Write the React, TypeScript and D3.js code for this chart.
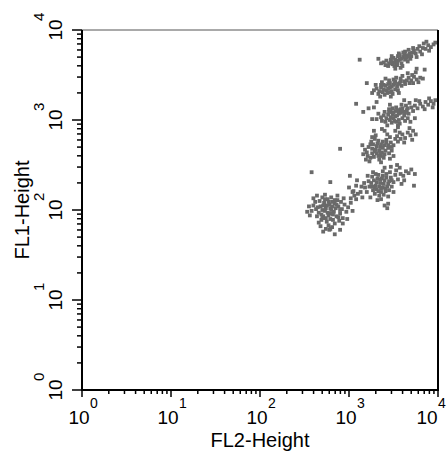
import * as d3 from "d3";

// log decades shown on both axes, and minor tick steps inside a decade
const decades = [0, 1, 2, 3, 4];
const minorSteps = [2, 3, 4, 5, 6, 7, 8, 9];
const xTitle = "FL2-Height";
const yTitle = "FL1-Height";

// events as [FL2, FL1], log10 units
const peak6 = [
  [2.79, 2.02], [2.75, 2.05], [2.83, 1.98], [2.70, 2.00], [2.88, 2.04], [2.77, 1.94], [2.81, 2.09], [2.72, 2.08],
  [2.86, 1.93], [2.66, 1.97], [2.92, 2.01], [2.74, 1.91], [2.68, 2.04], [2.84, 2.07], [2.79, 1.96], [2.90, 1.96],
  [2.63, 2.01], [2.76, 2.12], [2.95, 2.06], [2.71, 1.93], [2.82, 1.89], [2.67, 2.10], [2.87, 2.11], [2.73, 1.99],
  [2.93, 1.91], [2.60, 2.05], [2.78, 2.06], [2.85, 2.02], [2.69, 1.89], [2.80, 2.14], [2.97, 1.98], [2.64, 1.93],
  [2.89, 1.88], [2.75, 1.87], [2.58, 1.99], [2.70, 2.14], [2.91, 2.09], [2.62, 2.09], [2.84, 1.85], [2.99, 2.03],
  [2.56, 1.94], [2.77, 1.83], [2.66, 1.86], [3.02, 2.08], [2.94, 2.13], [2.60, 2.13], [2.73, 2.17], [2.87, 2.16],
  [2.55, 2.04], [2.81, 1.81], [2.93, 1.85], [2.68, 1.82], [3.04, 1.99], [2.53, 1.98], [2.98, 1.90], [2.64, 2.16],
  [3.02, 2.13], [3.06, 2.16], [3.10, 2.18], [3.08, 2.12], [3.13, 2.20], [3.04, 2.20], [3.15, 2.14], [2.78, 1.78],
  [2.90, 1.78], [2.71, 1.76], [2.84, 1.73], [2.74, 1.79], [3.00, 2.25], [3.05, 2.21], [3.08, 2.27],
  [2.74, 2.02], [2.80, 2.00], [2.77, 2.09], [2.71, 2.05], [2.86, 2.06], [2.82, 1.95], [2.69, 1.95], [2.76, 1.97],
  [2.84, 2.11], [2.90, 2.00], [2.73, 2.12], [2.79, 1.90], [2.65, 2.03], [2.88, 1.92], [2.81, 2.04], [2.70, 1.91],
];

const peak5 = [
  [3.35, 2.30], [3.30, 2.27], [3.40, 2.33], [3.27, 2.22], [3.38, 2.25], [3.44, 2.29], [3.32, 2.35], [3.25, 2.30],
  [3.47, 2.36], [3.36, 2.20], [3.42, 2.40], [3.29, 2.18], [3.33, 2.39], [3.50, 2.31], [3.23, 2.26], [3.39, 2.17],
  [3.45, 2.22], [3.28, 2.33], [3.52, 2.39], [3.37, 2.35], [3.31, 2.23], [3.43, 2.26], [3.20, 2.20], [3.48, 2.26],
  [3.34, 2.16], [3.26, 2.37], [3.41, 2.21], [3.55, 2.34], [3.22, 2.32], [3.46, 2.42], [3.30, 2.40], [3.38, 2.43],
  [3.58, 2.40], [3.53, 2.44], [3.61, 2.38], [3.64, 2.43], [3.57, 2.47], [3.67, 2.41], [3.70, 2.45], [3.62, 2.33],
  [3.18, 2.25], [3.24, 2.14], [3.36, 2.12], [3.44, 2.15], [3.50, 2.20], [3.17, 2.30], [3.27, 2.42], [3.40, 2.47],
  [3.74, 2.40], [3.59, 2.29], [3.47, 2.48], [3.21, 2.38], [3.32, 2.11], [3.14, 2.26], [3.40, 2.05], [3.44, 2.07],
  [3.73, 2.27], [3.54, 2.50],
  [3.34, 2.26], [3.39, 2.29], [3.31, 2.31], [3.36, 2.24], [3.42, 2.36], [3.29, 2.25], [3.45, 2.32], [3.35, 2.34],
  [3.26, 2.26], [3.41, 2.24], [3.33, 2.21], [3.48, 2.33], [3.38, 2.38],
];

const peak4 = [
  [3.35, 2.70], [3.30, 2.67], [3.40, 2.72], [3.26, 2.63], [3.37, 2.64], [3.44, 2.69], [3.32, 2.74], [3.22, 2.70],
  [3.47, 2.75], [3.36, 2.60], [3.42, 2.78], [3.28, 2.59], [3.33, 2.77], [3.50, 2.72], [3.20, 2.64], [3.39, 2.58],
  [3.45, 2.63], [3.27, 2.73], [3.52, 2.79], [3.38, 2.76], [3.31, 2.63], [3.24, 2.58], [3.18, 2.67], [3.48, 2.66],
  [3.34, 2.56], [3.25, 2.76], [3.41, 2.66], [3.55, 2.76], [3.21, 2.60], [3.46, 2.81], [3.29, 2.79], [3.54, 2.82],
  [3.58, 2.79], [3.60, 2.84], [3.63, 2.80], [3.66, 2.86], [3.57, 2.86], [3.69, 2.83], [3.72, 2.88], [3.62, 2.75],
  [3.16, 2.62], [3.23, 2.54], [3.36, 2.53], [3.50, 2.60], [3.15, 2.72], [3.30, 2.83], [3.43, 2.84], [3.75, 2.84],
  [3.68, 2.91], [3.52, 2.88], [3.26, 2.81], [3.40, 2.88], [3.19, 2.56], [3.71, 2.78], [3.46, 2.57], [3.37, 2.90],
  [3.55, 2.92], [3.28, 2.88],
  [3.34, 2.66], [3.38, 2.69], [3.31, 2.71], [3.36, 2.73], [3.42, 2.75], [3.29, 2.65], [3.44, 2.72], [3.35, 2.63],
  [3.26, 2.68], [3.40, 2.62], [3.33, 2.60], [3.48, 2.70], [3.24, 2.73],
];

const peak3 = [
  [3.54, 3.05], [3.50, 3.02], [3.58, 3.08], [3.46, 3.00], [3.56, 3.00], [3.62, 3.05], [3.52, 3.10], [3.44, 3.06],
  [3.65, 3.11], [3.48, 2.97], [3.60, 3.13], [3.42, 3.02], [3.53, 3.14], [3.67, 3.07], [3.39, 3.05], [3.57, 2.96],
  [3.63, 2.99], [3.47, 3.09], [3.70, 3.14], [3.58, 3.12], [3.51, 2.99], [3.41, 2.98], [3.36, 3.03], [3.66, 3.02],
  [3.55, 2.94], [3.45, 3.12], [3.61, 3.09], [3.72, 3.10], [3.37, 2.99], [3.64, 3.16], [3.49, 3.13], [3.74, 3.16],
  [3.77, 3.13], [3.80, 3.18], [3.83, 3.15], [3.86, 3.20], [3.79, 3.21], [3.89, 3.17], [3.92, 3.21], [3.95, 3.18],
  [3.97, 3.22], [3.85, 3.12], [3.33, 3.07], [3.31, 3.01], [3.43, 2.94], [3.69, 2.98], [3.90, 3.24], [3.75, 3.22],
  [3.59, 3.17], [3.94, 3.14], [3.68, 3.19], [3.40, 3.09], [3.08, 3.18], [3.22, 3.13], [3.31, 3.20], [3.46, 3.17],
  [3.62, 3.22], [3.28, 3.14], [3.16, 3.09], [3.26, 3.01], [3.74, 3.02],
  [3.52, 3.04], [3.56, 3.07], [3.49, 3.06], [3.60, 3.02], [3.55, 3.11], [3.47, 3.03], [3.63, 3.08], [3.53, 2.98],
  [3.45, 3.09], [3.59, 3.10], [3.66, 3.13], [3.50, 3.08],
];

const peak2 = [
  [3.46, 3.36], [3.42, 3.33], [3.50, 3.39], [3.38, 3.31], [3.48, 3.32], [3.54, 3.37], [3.44, 3.40], [3.36, 3.36],
  [3.57, 3.41], [3.40, 3.28], [3.52, 3.43], [3.34, 3.32], [3.45, 3.44], [3.59, 3.38], [3.31, 3.35], [3.49, 3.29],
  [3.55, 3.33], [3.39, 3.39], [3.62, 3.43], [3.50, 3.45], [3.43, 3.30], [3.33, 3.29], [3.28, 3.33], [3.58, 3.46],
  [3.47, 3.26], [3.37, 3.42], [3.53, 3.47], [3.65, 3.44], [3.30, 3.39], [3.63, 3.40], [3.67, 3.47], [3.70, 3.44],
  [3.73, 3.48], [3.76, 3.45], [3.80, 3.47], [3.71, 3.50], [3.68, 3.41], [3.60, 3.49], [3.26, 3.30], [3.35, 3.26],
  [3.56, 3.30], [3.41, 3.46], [3.78, 3.42], [3.83, 3.46], [3.20, 3.41], [3.66, 3.52], [3.75, 3.53], [3.72, 3.41],
  [3.44, 3.35], [3.48, 3.37], [3.41, 3.38], [3.52, 3.34], [3.46, 3.41], [3.39, 3.34], [3.55, 3.40], [3.45, 3.31],
  [3.51, 3.41], [3.36, 3.39], [3.58, 3.43],
];

const peak1 = [
  [3.57, 3.67], [3.53, 3.64], [3.61, 3.70], [3.49, 3.62], [3.59, 3.63], [3.65, 3.69], [3.55, 3.71], [3.47, 3.67],
  [3.68, 3.74], [3.51, 3.60], [3.63, 3.76], [3.45, 3.63], [3.56, 3.74], [3.70, 3.71], [3.42, 3.66], [3.60, 3.60],
  [3.66, 3.65], [3.50, 3.69], [3.73, 3.77], [3.62, 3.73], [3.54, 3.61], [3.44, 3.60], [3.39, 3.64], [3.69, 3.68],
  [3.58, 3.58], [3.48, 3.71], [3.64, 3.72], [3.75, 3.74], [3.41, 3.61], [3.67, 3.78], [3.77, 3.79], [3.80, 3.76],
  [3.83, 3.80], [3.79, 3.82], [3.86, 3.79], [3.89, 3.83], [3.84, 3.85], [3.92, 3.81], [3.95, 3.84], [3.87, 3.87],
  [3.72, 3.80], [3.76, 3.70], [3.36, 3.63], [3.52, 3.57], [3.82, 3.73], [3.97, 3.86], [3.90, 3.77], [3.12, 3.67],
  [3.33, 3.68], [3.76, 3.57], [3.85, 3.56],
  [3.55, 3.66], [3.59, 3.68], [3.52, 3.67], [3.63, 3.67], [3.57, 3.72], [3.50, 3.64], [3.67, 3.71], [3.54, 3.63],
  [3.61, 3.75], [3.71, 3.75], [3.47, 3.65], [3.64, 3.70],
];

const strays = [
  [2.58, 2.42], [2.79, 2.31], [3.01, 2.38], [3.09, 2.33], [2.79, 1.79], [3.43, 2.02], [2.90, 2.68],
];

export default function App() {
  const width = 447;
  const height = 453;
  const margin = { top: 30, right: 9, bottom: 63, left: 82 };

  const x = d3.scaleLinear().domain([0, 4]).range([margin.left, width - margin.right]);
  const y = d3.scaleLinear().domain([0, 4]).range([height - margin.bottom, margin.top]);

  const minors = decades.slice(0, -1).flatMap((d) => minorSteps.map((s) => d + Math.log10(s)));
  const events = [peak1, peak2, peak3, peak4, peak5, peak6, strays].flat();
  const font = "'Liberation Sans', Arial, sans-serif";
  const dot = 3.8;

  return (
    <svg
      width={width}
      height={height}
      style={{ position: "absolute", left: 0, top: 0, background: "#fff" }}
      fontFamily={font}
    >
      {/* events */}
      <g fill="#6a6a6a">
        {events.map((d, i) => (
          <rect key={i} x={x(d[0]) - dot / 2} y={y(d[1]) - dot / 2} width={dot} height={dot} />
        ))}
      </g>

      {/* frame */}
      <line x1={x(0)} x2={x(4)} y1={y(4)} y2={y(4)} stroke="#555" strokeWidth={1} />
      <line x1={x(4)} x2={x(4)} y1={y(4)} y2={y(0) + 1} stroke="#000" strokeWidth={2} />
      <line x1={x(0)} x2={x(0)} y1={y(4)} y2={y(0) + 1} stroke="#000" strokeWidth={2} />
      <line x1={x(0) - 1} x2={x(4) + 1} y1={y(0)} y2={y(0)} stroke="#000" strokeWidth={2} />

      {/* y ticks */}
      <g stroke="#000" strokeWidth={1.5}>
        {decades.map((d) => (
          <line key={"ym" + d} x1={x(0) - 10} x2={x(0)} y1={y(d)} y2={y(d)} />
        ))}
        {minors.map((d, i) => (
          <line key={"yn" + i} x1={x(0) - 5} x2={x(0)} y1={y(d)} y2={y(d)} />
        ))}
      </g>

      {/* x ticks */}
      <g stroke="#000" strokeWidth={1.5}>
        {decades.map((d) => (
          <line key={"xm" + d} x1={x(d)} x2={x(d)} y1={y(0)} y2={y(0) + 7} />
        ))}
        {minors.map((d, i) => (
          <line key={"xn" + i} x1={x(d)} x2={x(d)} y1={y(0)} y2={y(0) + 4} />
        ))}
      </g>

      {/* x tick labels */}
      {decades.map((d) => {
        const shift = d === 4 ? -8 : 0;
        return (
          <g key={"xl" + d} fill="#000">
            <text x={x(d) - 3 + shift} y={424} textAnchor="middle" fontSize={19}>10</text>
            <text x={x(d) + 8 + shift} y={408} fontSize={14}>{d}</text>
          </g>
        );
      })}

      {/* y tick labels */}
      {decades.map((d) => (
        <g key={"yl" + d} fill="#000">
          <text transform={`translate(62,${y(d)}) rotate(-90)`} textAnchor="middle" fontSize={19}>10</text>
          <text transform={`translate(44,${y(d) - 9}) rotate(-90)`} fontSize={15}>{d}</text>
        </g>
      ))}

      {/* titles */}
      <text x={(x(0) + x(4)) / 2} y={447} textAnchor="middle" fontSize={20} fill="#000">{xTitle}</text>
      <text transform={`translate(29,${(y(0) + y(4)) / 2}) rotate(-90)`} textAnchor="middle" fontSize={20} fill="#000">
        {yTitle}
      </text>
    </svg>
  );
}
